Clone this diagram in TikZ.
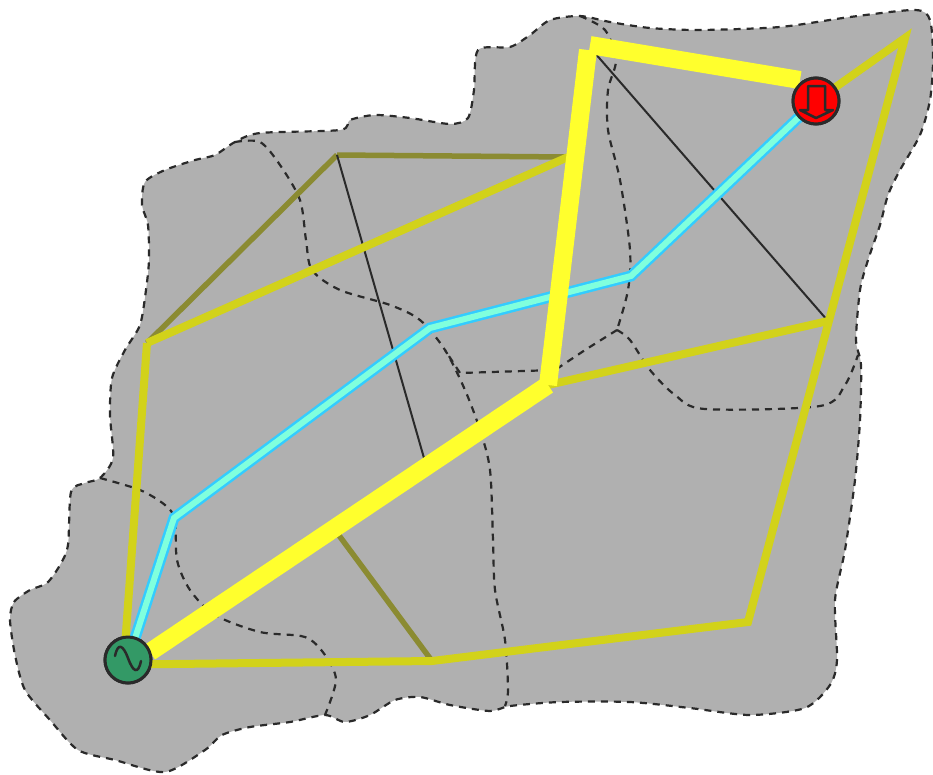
\documentclass[tikz,border=0pt]{standalone}
\definecolor{regiongray}{HTML}{B0B0B0}
\definecolor{inkdark}{HTML}{2A2A2A}
\definecolor{olivedark}{HTML}{8B8B32}
\definecolor{olivebright}{HTML}{D2D21A}
\definecolor{hotyellow}{HTML}{FFFF2D}
\definecolor{flowblue}{HTML}{33CCFF}
\definecolor{flowmint}{HTML}{80FFDD}
\definecolor{srcgreen}{HTML}{339966}
\tikzset{
  border/.style={draw=inkdark,line width=2.2pt,dash pattern=on 7pt off 6pt},
  thinline/.style={draw=inkdark,line width=2pt},
  olive/.style={draw=olivedark,line width=5.5pt},
  brightline/.style={draw=olivebright,line width=8pt},
  hotline/.style={draw=hotyellow,line width=18pt},
  flowout/.style={draw=flowblue,line width=11pt,line join=miter},
  flowin/.style={draw=flowmint,line width=6pt,line join=miter},
  bus/.style={circle,draw=inkdark,line width=3pt,minimum size=46pt,inner sep=0pt,outer sep=0pt},
  glyph/.style={draw=inkdark,line width=2.5pt,line join=round,line cap=round}
}
\begin{document}
\begin{tikzpicture}[x=1pt,y=-1pt]
\useasboundingbox (0,0) rectangle (933,774);
\path[fill=regiongray,border] plot[smooth cycle,tension=0.45] coordinates {
(10,620)(14,602)(30,590)(47,583)(60,565)(68,545)(71,492)(85,483)(100,478)(113,458)(110,415)(112,378)(125,350)(140,325)(146,290)(149,260)(148,225)(142,205)(145,182)(165,170)(195,160)(215,155)(235,142)(260,133)(340,130)(350,120)(375,115)(410,118)(450,124)(468,118)(474,90)(478,50)(510,47)(530,35)(550,20)(580,16)(610,22)(650,28)(700,30)(780,27)(850,17)(915,10)(930,20)(933,60)(930,100)(920,135)(900,170)(888,195)(880,225)(868,260)(860,290)(856,340)(861,365)(860,420)(855,480)(845,550)(835,600)(837,660)(830,685)(805,708)(750,715)(690,708)(630,702)(560,702)(510,706)(490,711)(450,705)(420,697)(395,700)(370,715)(345,722)(325,715)(290,722)(250,727)(222,735)(205,750)(165,772)(115,760)(78,750)(50,720)(25,690)(15,655)};
\draw[border] plot[smooth,tension=0.5] coordinates {(100,478)(140,490)(165,505)(175,520)(177,560)(190,590)(215,615)(260,632)(305,637)(325,655)(336,680)(325,715)};
\draw[border] plot[smooth,tension=0.5] coordinates {(235,142)(260,142)(280,165)(300,200)(306,240)(312,270)(340,290)(390,305)(420,320)(445,350)(465,390)(480,430)(490,470)(493,540)(495,590)(505,640)(508,690)(505,706)};
\draw[border] plot[smooth,tension=0.5] coordinates {(580,16)(605,30)(616,60)(608,90)(608,130)(620,180)(630,250)(628,290)(617,330)};
\draw[border] (617,330) -- (585,350) -- (555,370) -- (460,373) -- (445,350);
\draw[border] plot[smooth,tension=0.5] coordinates {(617,330)(630,340)(650,370)(675,395)(705,409)(820,406)(845,385)(858,355)};

\node[bus,fill=red] (load) at (816,101) {};
\node[bus,fill=srcgreen] (gen) at (128,660) {};

\coordinate (oa) at (337,155);
\coordinate (ob) at (568,157);
\coordinate (oc) at (147,343);
\coordinate (od) at (335,530);
\coordinate (oe) at (432,661);
\coordinate (tb) at (424,458);
\coordinate (tc) at (594,52);
\coordinate (td) at (828,321);
\coordinate (ya) at (748,622);
\coordinate (yb) at (905,38);
\coordinate (yc) at (548,385);
\coordinate (hc) at (588,50);
\coordinate (hd) at (590,45);
\coordinate (he) at (800,80);
\coordinate (fa) at (174,518);
\coordinate (fb) at (430,328);
\coordinate (fc) at (631,276);
\coordinate (gl) at (124,660);
\coordinate (gb) at (128,664.5);
\coordinate (gh) at (150,652);

\draw[olive] (oa) -- (ob);
\draw[olive] (oa) -- (oc);
\draw[olive] (od) -- (oe);
\draw[thinline] (oa) -- (tb);
\draw[thinline] (tc) -- (td);

\draw[brightline] (oc) -- (ob);
\draw[brightline] (gl) -- (oc);
\draw[brightline] (gb) -- (oe) -- (ya) -- (yb) -- (load);
\draw[brightline] (yc) -- (td);

\draw[flowout] (gen) -- (fa) -- (fb) -- (fc) -- (load);
\draw[flowin] (gen) -- (fa) -- (fb) -- (fc) -- (load);

\draw[hotline] (gh) -- (yc);
\draw[hotline] (yc) -- (hc);
\draw[hotline] (hd) -- (he);

\node[bus,fill=red] at (load) {};
\node[bus,fill=srcgreen] at (gen) {};
\draw[glyph] (808,86) -- (825,86) -- (825,110) -- (833,110) -- (816,118) -- (800,110) -- (808,110) -- cycle;
\draw[glyph] (115,656) .. controls (118,642) and (123,645) .. (128,658) .. controls (133,672) and (138,675) .. (141,661);
\end{tikzpicture}
\end{document}
